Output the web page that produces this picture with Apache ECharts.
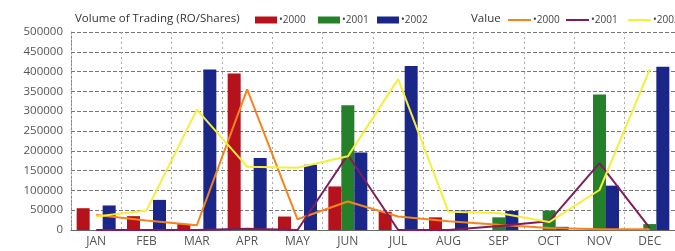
<!DOCTYPE html>
<html><head><meta charset="utf-8">
<script src="https://cdn.jsdelivr.net/npm/echarts@6/dist/echarts.min.js"></script>
<style>html,body{margin:0;padding:0;background:#fff}#c{width:675px;height:251px}</style>
</head><body><div id="c"></div>
<script>
const months = ['JAN','FEB','MAR','APR','MAY','JUN','JUL','AUG','SEP','OCT','NOV','DEC'];
const years = ['2000','2001','2002'];
const vol2000 = [55000, 35000, 15000, 395000, 34000, 110000, 46000, 32000, 0, 0, 0, 0];
const vol2001 = [0, 0, 0, 4000, 0, 315000, 0, 0, 32000, 49000, 342000, 15000];
const vol2002 = [62000, 76000, 405000, 182000, 165000, 196000, 414000, 49000, 48000, 8000, 112000, 412000];
const val2000 = [38000, 24000, 12000, 355000, 27000, 72000, 34000, 22000, 13000, 5000, 2000, 2000];
const val2001 = [0, 0, 0, 3000, 0, 190000, 0, 0, 10000, 22000, 169000, 5000];
const val2002 = [34000, 49000, 304000, 160000, 157000, 186000, 381000, 46000, 43000, 20000, 101000, 406000];
const yTicks = {min: 0, max: 500000, interval: 50000};

const barColors = ['#b5121b', '#25802a', '#1b2788'];
const lineColors = ['#f5841f', '#7d1d5c', '#f4ef3c'];
const font = 'Open Sans';

const chart = echarts.init(document.getElementById('c'));
const volData = [vol2000, vol2001, vol2002];
const valData = [val2000, val2001, val2002];
const series = [];
years.forEach((y, i) => series.push({
  name: 'Volume ' + y, type: 'bar', data: volData[i], barWidth: 13, barGap: '0%',
  itemStyle: {color: barColors[i]}, z: 2
}));
years.forEach((y, i) => series.push({
  name: 'Value ' + y, type: 'line', data: valData[i], symbol: 'none',
  lineStyle: {color: lineColors[i], width: 2}, itemStyle: {color: lineColors[i]}, z: 3
}));
const barLegendX = [250, 313, 372];
const lineLegendX = [503, 561, 623];
const legends = [];
years.forEach((y, i) => legends.push({
  data: ['Volume ' + y], left: barLegendX[i], top: 10, icon: 'rect', itemWidth: 22, itemHeight: 7,
  formatter: () => '\u2022' + y, textStyle: {fontFamily: font, fontSize: 10, color: '#444', padding: [0,0,0,-3]}
}));
years.forEach((y, i) => legends.push({
  data: ['Value ' + y], left: lineLegendX[i], top: 10, icon: 'rect', itemWidth: 23, itemHeight: 2,
  formatter: () => '\u2022' + y, textStyle: {fontFamily: font, fontSize: 10, color: '#444', padding: [0,0,0,-3]}
}));
chart.setOption({
  animation: false,
  title: [
    {text: 'Volume of Trading (RO/Shares)', left: 70, top: 8, textStyle: {fontFamily: font, fontSize: 11.5, fontWeight: 'normal', color: '#333'}},
    {text: 'Value', left: 466, top: 8, textStyle: {fontFamily: font, fontSize: 11.5, fontWeight: 'normal', color: '#333'}}
  ],
  legend: legends,
  grid: {left: 71, top: 32, height: 198, width: 608},
  xAxis: {
    type: 'category', data: months,
    axisLine: {lineStyle: {color: '#666'}}, axisTick: {show: false},
    axisLabel: {fontFamily: font, fontSize: 12, color: '#555', margin: 6},
    splitLine: {show: true, lineStyle: {color: '#aaa', type: [2, 3]}}
  },
  yAxis: {
    type: 'value', min: yTicks.min, max: yTicks.max, interval: yTicks.interval,
    axisLine: {show: true, lineStyle: {color: '#888', type: [2, 2]}}, axisTick: {show: false},
    axisLabel: {fontFamily: font, fontSize: 11.5, color: '#555', margin: 8, formatter: v => String(v)},
    splitLine: {lineStyle: {color: '#777', type: [4, 2]}}
  },
  series: series
});
</script></body></html>
